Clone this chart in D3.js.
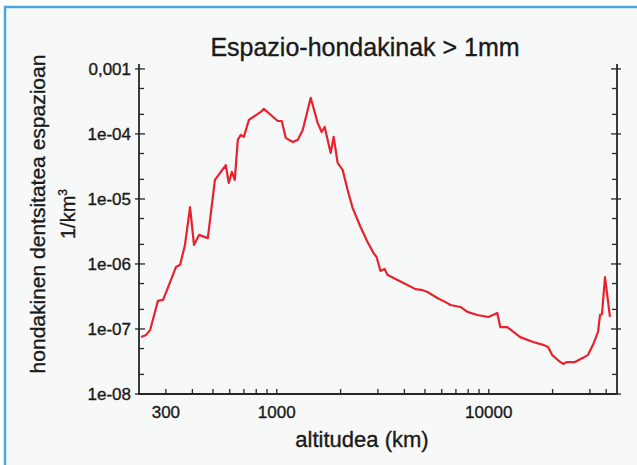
<!DOCTYPE html>
<html>
<head>
<meta charset="utf-8">
<script src="https://cdn.jsdelivr.net/npm/d3@7"></script>
<style>
  body { margin: 0; background: #ffffff; }
  svg { display: block; font-family: "Liberation Sans", Arial, sans-serif; }
  text { stroke: #1a1a1a; stroke-width: 0.35px; fill: #1a1a1a; }
</style>
</head>
<body>
<svg id="chart"></svg>
<script>
// Altitude (km) and debris density (1/km^3)
const altitude = [229, 242, 253, 275, 291, 335, 350, 369, 390, 407, 430, 473, 511, 575, 594, 614, 634,
  655, 677, 699, 739, 841, 869, 1011, 1056, 1102, 1189, 1256, 1326, 1446, 1559, 1629, 1683, 1796,
  1855, 1937, 2045, 2159, 2279, 2485, 2680, 2859, 2956, 3086, 3223, 3327, 3554, 3962, 4510, 4812,
  5138, 5725, 6380, 6597, 7350, 7929, 8836, 9955, 10970, 11330, 12220, 14070, 16200, 18050, 19040,
  19890, 21240, 22430, 23400, 25520, 27840, 29380, 31030, 32760, 33490, 34210, 35340, 37300];
const density = [7.5e-8, 8.1e-8, 9.7e-8, 2.7e-7, 2.8e-7, 9.0e-7, 9.7e-7, 1.96e-6, 7.5e-6, 1.96e-6,
  2.8e-6, 2.5e-6, 1.96e-5, 3.3e-5, 1.76e-5, 2.6e-5, 1.96e-5, 8.1e-5, 9.7e-5, 9.0e-5, 1.64e-4,
  2.18e-4, 2.43e-4, 1.58e-4, 1.58e-4, 8.7e-5, 7.5e-5, 8.1e-5, 1.15e-4, 3.6e-4, 1.48e-4, 1.07e-4,
  1.28e-4, 5.1e-5, 9.0e-5, 3.6e-5, 2.8e-5, 1.37e-5, 7.3e-6, 3.7e-6, 2.18e-6, 1.48e-6, 1.28e-6,
  7.8e-7, 8.4e-7, 6.8e-7, 6.1e-7, 5.1e-7, 4.1e-7, 4.0e-7, 3.7e-7, 3.0e-7, 2.5e-7, 2.34e-7,
  2.18e-7, 1.83e-7, 1.64e-7, 1.53e-7, 1.76e-7, 1.07e-7, 1.07e-7, 7.5e-8, 6.3e-8, 5.7e-8, 5.3e-8,
  4.0e-8, 3.3e-8, 2.9e-8, 3.1e-8, 3.1e-8, 3.6e-8, 4.0e-8, 5.7e-8, 9.0e-8, 1.64e-7, 1.70e-7,
  6.3e-7, 1.53e-7];

// Tick values and labels
const xTicks = [300, 400, 500, 600, 700, 800, 900, 1000, 2000, 3000, 4000, 5000, 6000, 7000,
  8000, 9000, 10000, 20000, 30000, 35786];
const xLabels = [[300, "300"], [1000, "1000"], [10000, "10000"]];
const yMajor = [1e-3, 1e-4, 1e-5, 1e-6, 1e-7, 1e-8];
const yMajorLabels = ["0,001", "1e-04", "1e-05", "1e-06", "1e-07", "1e-08"];
const yMinor = [5e-4, 2e-4, 5e-5, 2e-5, 5e-6, 2e-6, 5e-7, 2e-7, 5e-8, 2e-8];

const width = 637, height = 465;
const margin = {top: 64, right: 20, bottom: 71, left: 139};

const svg = d3.select("#chart")
  .attr("width", width)
  .attr("height", height);

// Panel background with blue frame (only top and left visible)
svg.append("rect")
  .attr("x", 5).attr("y", 7)
  .attr("width", width).attr("height", height)
  .attr("fill", "#f7f8f8")
  .attr("stroke", "#4aa6dc")
  .attr("stroke-width", 2.5);

const x = d3.scaleLog()
  .domain([224, 40260])
  .range([margin.left, width - margin.right]);

const y = d3.scaleLog()
  .domain([1e-8, 1.19e-3])
  .range([height - margin.bottom, margin.top]);

const axisColor = "#262626";
const x0 = margin.left, x1 = width - margin.right;
const y0 = height - margin.bottom, y1 = margin.top;

// Axis frame: left, bottom, right
svg.append("path")
  .attr("d", `M${x0},${y1}V${y0}H${x1}V${y1}`)
  .attr("fill", "none")
  .attr("stroke", axisColor)
  .attr("stroke-width", 1.8);

// Bottom ticks (pointing up)
svg.append("g").selectAll("line")
  .data(xTicks)
  .join("line")
  .attr("x1", d => x(d)).attr("x2", d => x(d))
  .attr("y1", y0).attr("y2", y0 - 5)
  .attr("stroke", axisColor).attr("stroke-width", 1.3);

svg.append("g").selectAll("text")
  .data(xLabels)
  .join("text")
  .attr("x", d => x(d[0]))
  .attr("y", y0 + 24)
  .attr("text-anchor", "middle")
  .attr("font-size", 17)
  .text(d => d[1]);

// Left and right ticks
[[x0, 1], [x1, -1]].forEach(([ax, dir]) => {
  svg.append("g").selectAll("line")
    .data(yMajor)
    .join("line")
    .attr("x1", ax - dir * 4).attr("x2", ax + dir * 6)
    .attr("y1", d => y(d)).attr("y2", d => y(d))
    .attr("stroke", axisColor).attr("stroke-width", 1.3);
  svg.append("g").selectAll("line")
    .data(yMinor)
    .join("line")
    .attr("x1", ax).attr("x2", ax + dir * 5)
    .attr("y1", d => y(d)).attr("y2", d => y(d))
    .attr("stroke", axisColor).attr("stroke-width", 1.3);
});

svg.append("g").selectAll("text")
  .data(yMajor)
  .join("text")
  .attr("x", x0 - 8)
  .attr("y", d => y(d))
  .attr("dy", "0.35em")
  .attr("text-anchor", "end")
  .attr("font-size", 17)
  .text((d, i) => yMajorLabels[i]);

// Data line
const line = d3.line()
  .x(d => x(d[0]))
  .y(d => y(d[1]));

svg.append("path")
  .datum(altitude.map((a, i) => [a, density[i]]))
  .attr("d", line)
  .attr("fill", "none")
  .attr("stroke", "#e8222e")
  .attr("stroke-width", 2.2)
  .attr("stroke-linejoin", "round");

// Title and axis labels
svg.append("text")
  .attr("x", 365).attr("y", 56)
  .attr("text-anchor", "middle")
  .attr("font-size", 25)
  .text("Espazio-hondakinak > 1mm");

svg.append("text")
  .attr("x", 362).attr("y", 447)
  .attr("text-anchor", "middle")
  .attr("font-size", 22)
  .text("altitudea (km)");

const yl = svg.append("text")
  .attr("transform", "translate(45,214) rotate(-90)")
  .attr("text-anchor", "middle")
  .attr("font-size", 21);
yl.append("tspan").attr("x", 0).attr("y", 0).text("hondakinen dentsitatea espazioan");

const yl2 = svg.append("text")
  .attr("transform", "translate(75,214) rotate(-90)")
  .attr("text-anchor", "middle")
  .attr("font-size", 20);
yl2.append("tspan").text("1/km");
yl2.append("tspan").attr("font-size", 12).attr("dy", -8).text("3");
</script>
</body>
</html>
